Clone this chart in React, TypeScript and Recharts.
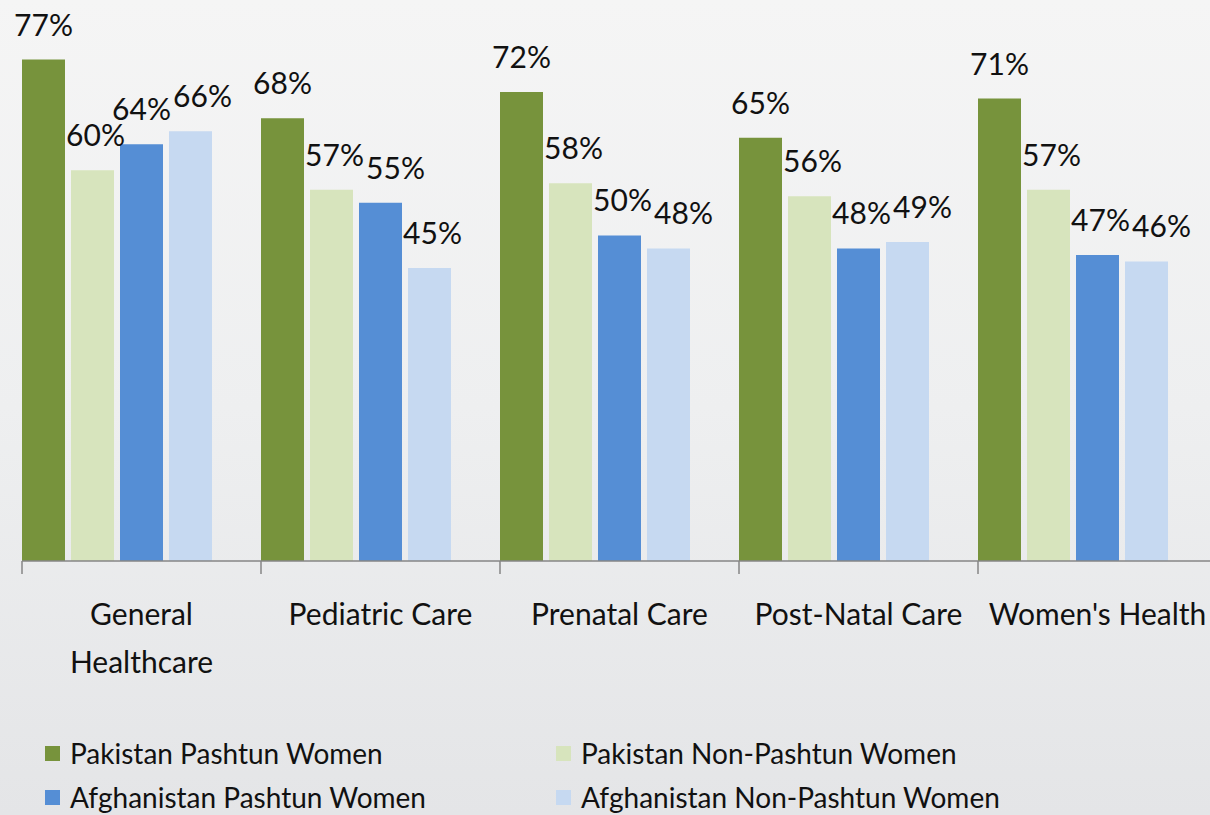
import React from "react";
import { BarChart, Bar, XAxis, YAxis, LabelList } from "recharts";

const categories = ["General Healthcare", "Pediatric Care", "Prenatal Care", "Post-Natal Care", "Women's Health"];
const pakistanPashtun = [77, 68, 72, 65, 71];
const pakistanNonPashtun = [60, 57, 58, 56, 57];
const afghanPashtun = [64, 55, 50, 48, 47];
const afghanNonPashtun = [66, 45, 48, 49, 46];

const seriesNames = [
  "Pakistan Pashtun Women",
  "Pakistan Non-Pashtun Women",
  "Afghanistan Pashtun Women",
  "Afghanistan Non-Pashtun Women",
];
const seriesValues = [pakistanPashtun, pakistanNonPashtun, afghanPashtun, afghanNonPashtun];
const colors = ["#77933C", "#D7E4BD", "#558ED5", "#C6D9F1"];

const data = categories.map((c, i) => ({
  name: c,
  s0: pakistanPashtun[i],
  s1: pakistanNonPashtun[i],
  s2: afghanPashtun[i],
  s3: afghanNonPashtun[i],
}));

const FONT = "Lato, 'Open Sans', sans-serif";
const TEXT_COLOR = "#111";
const BAR_GAP = 6;
const LABEL_W = 57;
const LABEL_TOP = 47; // label box top above bar top
const LABEL_BOTTOM = 23; // label box bottom above bar top
const TICK_FONT = 30;

// Collision-aware label centre: push right to clear the taller left bar / left label.
function labelCenter(s: number, idx: number, x: number, width: number, pxPerUnit: number, base: number): number {
  const cx = x + width / 2;
  if (s === 0) return cx;
  const top = base - seriesValues[s][idx] * pxPerUnit;
  const lbBottom = top - LABEL_BOTTOM;
  const lbTop = top - LABEL_TOP;
  let left = cx - LABEL_W / 2;
  const prevX = x - width - BAR_GAP;
  const prevTop = base - seriesValues[s - 1][idx] * pxPerUnit;
  if (prevTop < lbBottom) left = Math.max(left, prevX + width + 2);
  const prevCx = labelCenter(s - 1, idx, prevX, width, pxPerUnit, base);
  const pTop = prevTop - LABEL_TOP;
  const pBottom = prevTop - LABEL_BOTTOM;
  if (pTop < lbBottom && lbTop < pBottom) left = Math.max(left, prevCx + LABEL_W / 2 + 4);
  return left + LABEL_W / 2;
}

const makeLabel = (s: number) => (props: any) => {
  const { x, y, width, height, value, index } = props;
  if (value == null) return null;
  const pxPerUnit = height / value;
  const base = y + height;
  const cx = labelCenter(s, index, x, width, pxPerUnit, base);
  return (
    <text
      x={cx}
      y={y - 24}
      textAnchor="middle"
      style={{ fontFamily: FONT, fontSize: 30, fill: TEXT_COLOR }}
    >
      {value}%
    </text>
  );
};

function wrapLabel(label: string, maxWidth: number): string[] {
  const est = (s: string) => s.length * TICK_FONT * 0.5;
  if (est(label) <= maxWidth) return [label];
  const words = label.split(" ");
  const lines: string[] = [];
  let cur = "";
  words.forEach((w) => {
    const next = cur ? cur + " " + w : w;
    if (cur && est(next) > maxWidth) {
      lines.push(cur);
      cur = w;
    } else cur = next;
  });
  if (cur) lines.push(cur);
  return lines;
}

const CategoryTick = (props: any) => {
  const { x, y, payload } = props;
  const half = payload.offset || 119.5;
  const lines = wrapLabel(String(payload.value), 2 * half - 10);
  return (
    <g>
      <line x1={x - half} y1={y} x2={x - half} y2={y + 13} stroke="#868686" strokeWidth={1.5} />
      <text x={x} y={y + 64} textAnchor="middle" style={{ fontFamily: FONT, fontSize: TICK_FONT, fill: TEXT_COLOR }}>
        {lines.map((l, i) => (
          <tspan key={i} x={x} dy={i === 0 ? 0 : 48}>
            {l}
          </tspan>
        ))}
      </text>
    </g>
  );
};

const LegendBlock = () => {
  const colX = [45, 556];
  return (
    <div style={{ position: "absolute", left: 0, top: 733, width: 1210, height: 90 }}>
      {seriesNames.map((n, i) => {
        const col = i % 2;
        const row = Math.floor(i / 2);
        return (
          <div
            key={n}
            style={{
              position: "absolute",
              left: colX[col],
              top: row * 44,
              height: 40,
              display: "flex",
              alignItems: "center",
              fontFamily: FONT,
              fontSize: 28,
              color: TEXT_COLOR,
              whiteSpace: "nowrap",
            }}
          >
            <span style={{ display: "inline-block", width: 15, height: 15, background: colors[i], marginRight: 10 }} />
            {n}
          </div>
        );
      })}
    </div>
  );
};

export default function App() {
  return (
    <div
      style={{
        position: "absolute",
        left: 0,
        top: 0,
        width: 1210,
        height: 815,
        overflow: "hidden",
        background: "linear-gradient(to bottom, #f5f5f5 0%, #eeeff0 50%, #e4e5e7 100%)",
      }}
    >
      <BarChart
        width={1220}
        height={815}
        data={data}
        margin={{ top: 40, right: 3, left: 22, bottom: 253 }}
        barCategoryGap={0}
        barGap={BAR_GAP}
      >
        <XAxis
          dataKey="name"
          axisLine={{ stroke: "#868686", strokeWidth: 1.5 }}
          tickLine={false}
          tickSize={0}
          tickMargin={0}
          interval={0}
          tick={<CategoryTick />}
          height={1}
        />
        <YAxis hide domain={[0, 80]} />
        {["s0", "s1", "s2", "s3"].map((k, i) => (
          <Bar key={k} dataKey={k} name={seriesNames[i]} fill={colors[i]} isAnimationActive={false}>
            <LabelList dataKey={k} content={makeLabel(i)} />
          </Bar>
        ))}
        <Bar dataKey="spacer" legendType="none" fill="none" isAnimationActive={false} />
      </BarChart>
      <LegendBlock />
    </div>
  );
}
